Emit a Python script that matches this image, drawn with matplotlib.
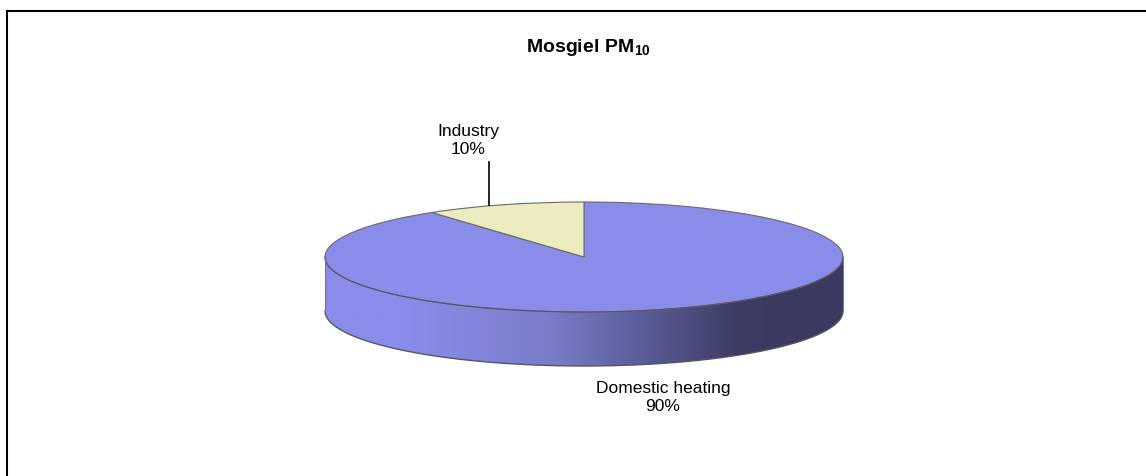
import numpy as np
import matplotlib
matplotlib.use("Agg")
import matplotlib.pyplot as plt
from matplotlib.colors import LinearSegmentedColormap
from matplotlib.patches import Polygon
from matplotlib.lines import Line2D

# ---- data ----
categories = ["Domestic heating", "Industry"]
values = [90, 10]
pct_labels = ["90%", "10%"]
colors = ["#8A8CEA", "#ECECBE"]
title_text = r"$\mathbf{Mosgiel\ PM_{10}}$"

plt.rcParams['font.family'] = ['Liberation Sans', 'DejaVu Sans']
plt.rcParams['mathtext.fontset'] = 'custom'
plt.rcParams['mathtext.rm'] = 'Liberation Sans'
plt.rcParams['mathtext.bf'] = 'Liberation Sans:bold'

W, H = 1146, 477
fig = plt.figure(figsize=(W / 100, H / 100), dpi=100)
fig.patch.set_facecolor("white")

# pie geometry in pixels (y from top)
cx, cy, a, b, depth = 584, 258, 259, 55, 54
d = depth / b

ax = fig.add_axes([0, 0, 1, 1])
ax.axis("off")

def set_lims():
    ax.set_xlim((0 - cx) / a, (W - cx) / a)
    ax.set_ylim((cy - H) / b, cy / b)
    ax.set_aspect("auto")

# side wall (front half only), drawn per wedge
total = float(sum(values))
angles = []
start = 90.0
for v in values:
    sweep = 360.0 * v / total
    angles.append((start - sweep, start))  # clockwise
    start -= sweep

side_cmap = LinearSegmentedColormap.from_list(
    "side", [(0.0, "#8A8CEA"), (0.15, "#8A8CEA"), (0.44, "#787CC8"),
             (0.62, "#5A5C96"), (0.80, "#3C3C64"), (1.0, "#3A3A60")])
grad = np.linspace(0, 1, 512).reshape(1, -1)

for (a0, a1) in angles:
    for k in range(-1, 2):
        lo = max(a0, 180 + 360 * k)
        hi = min(a1, 360 + 360 * k)
        if hi <= lo:
            continue
        t = np.radians(np.linspace(lo, hi, 200))
        top = np.column_stack([np.cos(t), np.sin(t)])
        bot = np.column_stack([np.cos(t[::-1]), np.sin(t[::-1]) - d])
        poly = Polygon(np.vstack([top, bot]), closed=True, facecolor="none",
                       edgecolor="none", zorder=1)
        ax.add_patch(poly)
        im = ax.imshow(grad, cmap=side_cmap, extent=(-1, 1, -1 - d, 0),
                       aspect="auto", zorder=1, interpolation="bilinear")
        im.set_clip_path(poly)

# side outlines
t = np.radians(np.linspace(180, 360, 300))
ax.plot(np.cos(t), np.sin(t) - d, color="#555566", lw=1.0, zorder=3)
ax.plot(np.cos(t), np.sin(t), color="#555566", lw=0.8, zorder=3)
ax.add_line(Line2D([-1, -1], [0, -d], color="#777788", lw=0.8, zorder=3))
ax.add_line(Line2D([1, 1], [0, -d], color="#777788", lw=0.8, zorder=3))

# top face
ax.pie(values, colors=colors, startangle=90, counterclock=False, radius=1,
       center=(0, 0), wedgeprops=dict(edgecolor="#6A6A6A", linewidth=0.8),
       frame=False)
set_lims()
ax.axis("off")

# frame lines
fig.add_artist(Line2D([7 / W, 1], [1 - 12 / H, 1 - 12 / H], color="black", lw=1.5))
fig.add_artist(Line2D([7 / W, 7 / W], [0, 1 - 12 / H], color="black", lw=1.5))

# title
fig.text(588 / W, 1 - 48 / H, title_text, ha="center", va="center", fontsize=14)

# labels
fig.text(468 / W, 1 - 141 / H, f"{categories[1]}\n{pct_labels[1]}", ha="center",
         va="center", fontsize=12.5, linespacing=1.25)
fig.add_artist(Line2D([489 / W, 489 / W], [1 - 163 / H, 1 - 206 / H], color="black", lw=1.2))
fig.text(663 / W, 1 - 398 / H, f"{categories[0]}\n{pct_labels[0]}", ha="center",
         va="center", fontsize=12.5, linespacing=1.25)

fig.savefig("out.png", dpi=100)
